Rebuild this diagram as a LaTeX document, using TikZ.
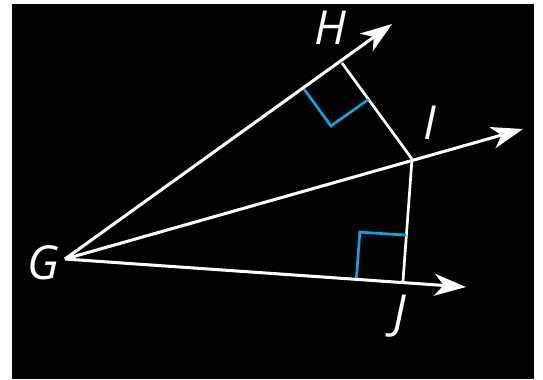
\documentclass[tikz,border=0pt]{standalone}
\usepackage{fontspec}
\setsansfont{Open Sans}
\usepackage{tikz}
\usetikzlibrary{arrows.meta,calc}

\definecolor{markblue}{RGB}{20,160,220}

\begin{document}
\begin{tikzpicture}[
  x=0.03cm, y=-0.03cm,
  ray/.style={draw=white, line width=2.6pt, -{Stealth[length=9.5mm, width=6.6mm, inset=2.8mm]}},
  seg/.style={draw=white, line width=2.3pt},
  rmark/.style={draw=markblue, line width=2.3pt},
  lbl/.style={text=white, font=\sffamily\itshape\fontsize{40}{40}\selectfont, inner sep=0pt}
]

% Frame
\fill[white] (0,0) rectangle (543,379);
\fill[black] (12,4) rectangle (534,379);
\useasboundingbox (0,0) rectangle (543,379);

% Points
\coordinate (G) at (65,259);
\coordinate (H) at (342,63);
\coordinate (I) at (412,159);
\coordinate (J) at (403,281);
\coordinate (Htip) at (392,24);
\coordinate (Itip) at (523,129);
\coordinate (Jtip) at (466,287);

% Rays
\draw[ray] (G) -- (Htip);
\draw[ray] (G) -- (Itip);
\draw[ray] (G) -- (Jtip);

% Perpendiculars
\draw[seg] (H) -- (I);
\draw[seg] (I) -- (J);

% Right angle marks
\coordinate (ha) at ($(H)!1.38cm!(G)$);
\coordinate (hb) at ($(H)!1.35cm!(I)$);
\draw[rmark] (ha) -- ($(ha)+(hb)-(H)$) -- (hb);
\coordinate (ja) at ($(J)!1.4cm!(G)$);
\coordinate (jb) at ($(J)!1.38cm!(I)$);
\draw[rmark] (ja) -- ($(ja)+(jb)-(J)$) -- (jb);

% Labels
\node[lbl] (lG) at (43,263) {G};
\node[lbl] (lH) at (330,28) {H};
\node[lbl] (lI) at (430,123) {I};
\node[lbl] (lJ) at (400,316) {J};

\end{tikzpicture}
\end{document}
